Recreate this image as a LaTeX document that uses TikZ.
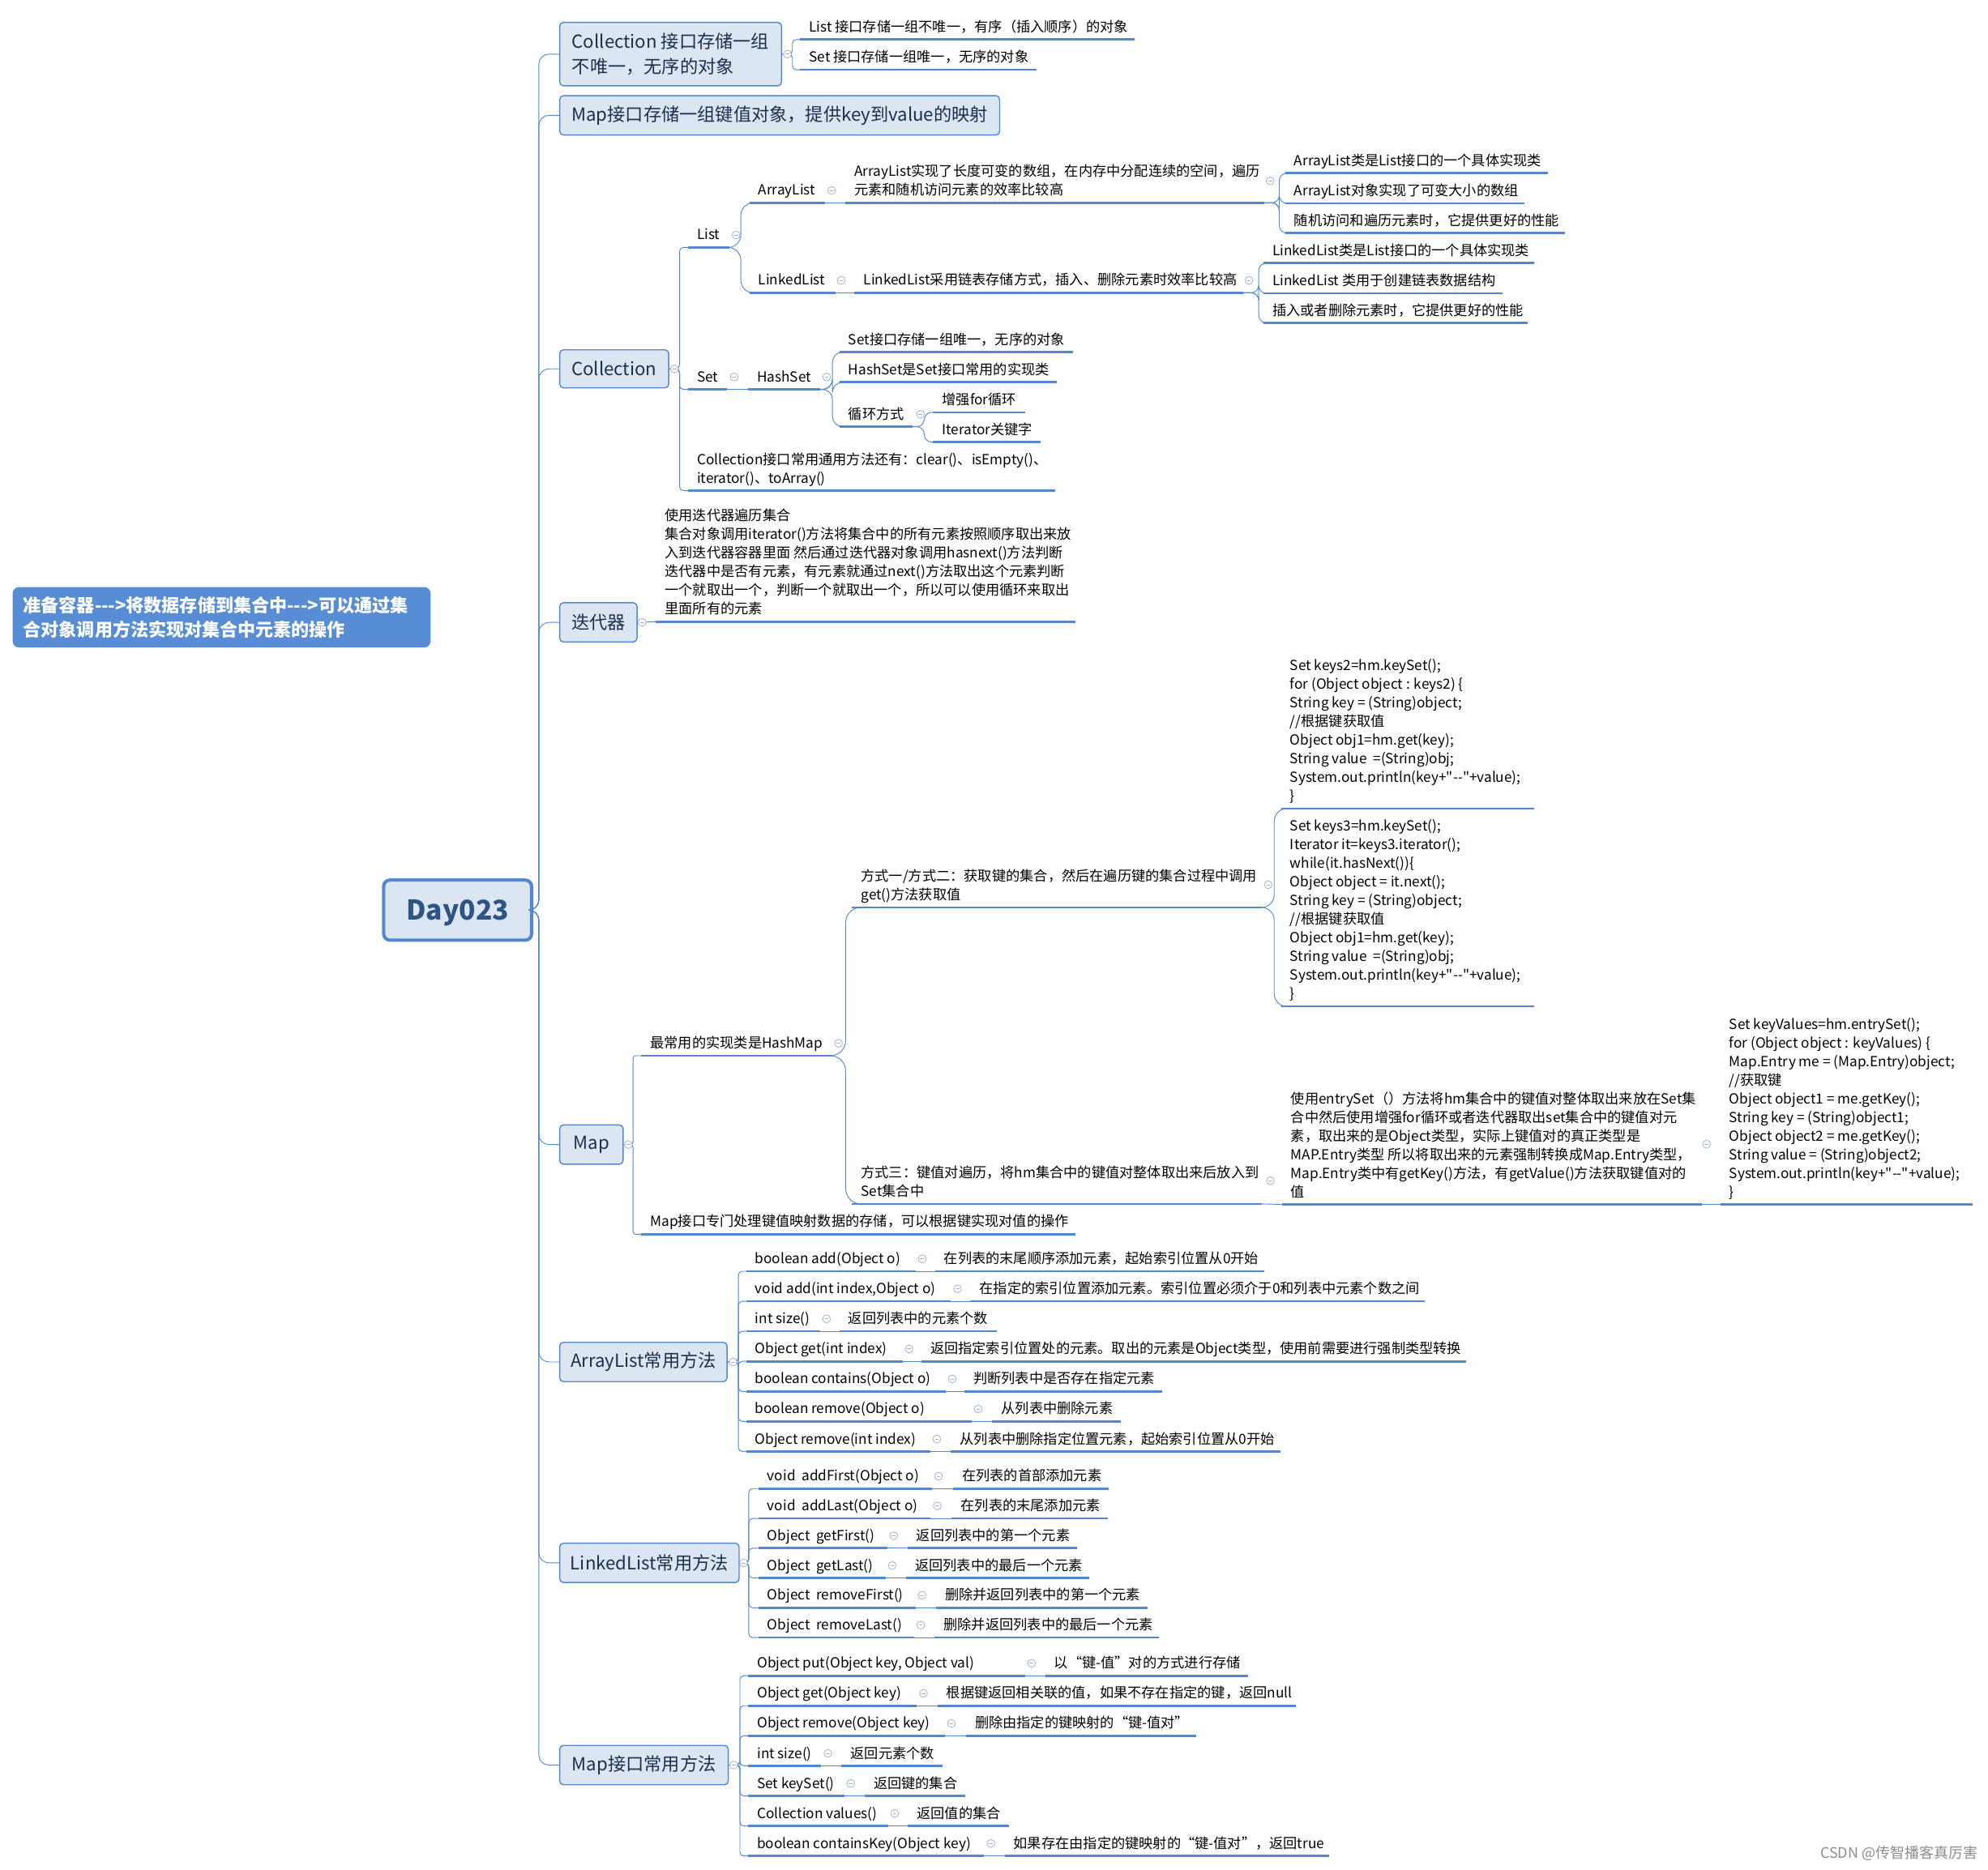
\documentclass[tikz,border=0pt]{standalone}
\usepackage{fontspec}
\setmainfont{Noto Sans CJK SC}
\definecolor{lb}{RGB}{84,135,206}
\definecolor{bfill}{RGB}{220,230,242}
\definecolor{btext}{RGB}{28,48,78}
\definecolor{dtext}{RGB}{46,84,132}
\definecolor{rootc}{RGB}{86,141,212}
\definecolor{mkc}{RGB}{160,178,206}
\newcommand\qd{\textquotedbl}
\newcommand\lf[5]{%
  \coordinate (s#1) at (#2,#3);
  \coordinate (e#1) at (#4,#3);
  \node[leaf] (#1) at (#2+7,#3-5.8) {#5};
  \draw[ul] (s#1) -- (e#1);}
\newcommand\mrow[8]{%
  \lf{#1}{#3}{#2}{#4}{#5}%
  \lf{#1d}{#6}{#2}{#7}{#8}%
  \draw[conn] (e#1) -- (s#1d);
  \pic at (#4+5.2,#2-9.8) {mkr};}
\begin{document}
\begin{tikzpicture}[x=1pt,y=-1pt,
  conn/.style={draw=lb,line width=0.6pt},
  ul/.style={draw=lb,line width=1.7pt},
  leaf/.style={anchor=south west,inner sep=0pt,text depth=0pt,align=left,font=\fontsize{11}{14.7}\selectfont},
  box/.style={draw=lb,line width=0.9pt,fill=bfill,rounded corners=3pt,anchor=west,inner sep=0pt,align=left,text=btext,font=\fontsize{14.2}{20.2}\selectfont},
  mkr/.pic={\draw[line width=0.5pt,draw=mkc,fill=white] (0,0) circle[radius=3.1];
            \draw[line width=0.5pt,draw=mkc] (-1.5,0) -- (1.5,0);}]
\useasboundingbox (0,0) rectangle (1568,1475);
\fill[white] (0,0) rectangle (1568,1475);

% floating root note
\node[fill=rootc,rounded corners=5pt,text width=312.8,minimum height=47.7,anchor=west,inner xsep=8.4,inner ysep=0pt,align=left,text=white,font=\bfseries\fontsize{14.1}{18.8}\selectfont] (root) at (9.8,487) {准备容器-{}-{}->将数据存储到集合中-{}-{}->可以通过集\\合对象调用方法实现对集合中元素的操作};

% central topic
\node[draw=lb,line width=2.6pt,fill=bfill,rounded corners=5pt,minimum width=116.7,minimum height=47.4,anchor=west,inner sep=0pt,text depth=0pt,text=dtext,font=\bfseries\fontsize{21.5}{21.5}\selectfont] (day) at (301.3,718) {Day023};

% main topics
\node[box,minimum width=175,minimum height=50] (b1) at (441,42.7) {Collection 接口存储一组\\不唯一，无序的对象};
\node[box,minimum width=347,minimum height=31] (b2) at (441,91) {Map接口存储一组键值对象，提供key到value的映射};
\node[box,minimum width=86,minimum height=30] (b3) at (441,291) {Collection};
\node[box,minimum width=61,minimum height=31] (b4) at (441,491) {迭代器};
\node[box,minimum width=50,minimum height=31] (b5) at (441,903) {Map};
\node[box,minimum width=132,minimum height=31] (b6) at (441,1074.5) {ArrayList常用方法};
\node[box,minimum width=141.5,minimum height=31] (b7) at (441,1233) {LinkedList常用方法};
\node[box,minimum width=133,minimum height=31] (b8) at (441,1392.5) {Map接口常用方法};

\foreach \b in {b1,b2,b3,b4,b5,b6,b7,b8}
  \draw[conn,rounded corners=8] (day.east) -- (425,718) |- (\b.west);

% Collection interface note
\lf{ca}{631}{31.2}{894.7}{List 接口存储一组不唯一，有序（插入顺序）的对象}
\lf{cb}{631}{55}{817.3}{Set 接口存储一组唯一，无序的对象}
\draw[conn,rounded corners=3] (b1.east) -- (625,42.7) |- (sca);
\draw[conn,rounded corners=3] (b1.east) -- (625,42.7) |- (scb);

% Collection
\lf{lst}{542.6}{195.2}{575}{List}
\lf{al}{591}{160}{651}{ArrayList}
\lf{ald}{666.7}{160}{997.3}{ArrayList实现了长度可变的数组，在内存中分配连续的空间，遍历\\元素和随机访问元素的效率比较高}
\lf{ala}{1013.6}{136.6}{1220.8}{ArrayList类是List接口的一个具体实现类}
\lf{alb}{1013.6}{160.4}{1202.5}{ArrayList对象实现了可变大小的数组}
\lf{alc}{1013.6}{183.9}{1234}{随机访问和遍历元素时，它提供更好的性能}
\lf{ll}{591}{231}{659}{LinkedList}
\lf{lld}{674}{231}{980.6}{LinkedList采用链表存储方式，插入、删除元素时效率比较高}
\lf{lla}{996.5}{207.5}{1210.3}{LinkedList类是List接口的一个具体实现类}
\lf{llb}{996.5}{231.4}{1185.4}{LinkedList 类用于创建链表数据结构}
\lf{llc}{996.5}{254.8}{1205}{插入或者删除元素时，它提供更好的性能}
\lf{st}{542.6}{307.2}{573.6}{Set}
\lf{hs}{590}{307.2}{646.6}{HashSet}
\lf{hsa}{662}{277.8}{846}{Set接口存储一组唯一，无序的对象}
\lf{hsb}{662}{301.5}{833.5}{HashSet是Set接口常用的实现类}
\lf{hsc}{662}{336.6}{720}{循环方式}
\lf{lpa}{736}{325.3}{808.6}{增强for循环}
\lf{lpb}{736}{348.8}{821}{Iterator关键字}
\lf{cm}{542.6}{387.1}{832}{Collection接口常用通用方法还有：clear()、isEmpty()、\\iterator()、toArray()}

\foreach \c in {slst,sst,scm}
  \draw[conn,rounded corners=3] (b3.east) -- (536,291) |- (\c);
\foreach \c in {sal,sll}
  \draw[conn,rounded corners=10] (elst) -- (584.3,195.2) |- (\c);
\draw[conn] (eal) -- (sald);
\foreach \c in {sala,salb,salc}
  \draw[conn,rounded corners=6] (eald) -- (1009,160) |- (\c);
\draw[conn] (ell) -- (slld);
\foreach \c in {slla,sllb,sllc}
  \draw[conn,rounded corners=6] (elld) -- (992.8,231) |- (\c);
\draw[conn] (est) -- (shs);
\foreach \c in {shsa,shsb,shsc}
  \draw[conn,rounded corners=8] (ehs) -- (656.6,307.2) |- (\c);
\foreach \c in {slpa,slpb}
  \draw[conn,rounded corners=6] (ehsc) -- (729,336.6) |- (\c);

% iterator
\lf{it}{517.3}{490.5}{848}{使用迭代器遍历集合\\集合对象调用iterator()方法将集合中的所有元素按照顺序取出来放\\入到迭代器容器里面 然后通过迭代器对象调用hasnext()方法判断\\迭代器中是否有元素，有元素就通过next()方法取出这个元素判断\\一个就取出一个，判断一个就取出一个，所以可以使用循环来取出\\里面所有的元素}
\draw[conn] (b4.east) -- (sit);

% Map
\lf{hm}{505.8}{832.9}{656.3}{最常用的实现类是HashMap}
\lf{mp}{505.8}{973.7}{848.3}{Map接口专门处理键值映射数据的存储，可以根据键实现对值的操作}
\lf{wa}{672}{715.9}{995.5}{方式一/方式二：获取键的集合，然后在遍历键的集合过程中调用\\get()方法获取值}
\lf{wb}{672}{949.8}{995.5}{方式三：键值对遍历，将hm集合中的键值对整体取出来后放入到\\Set集合中}
\lf{cda}{1010.4}{637.9}{1210}{Set keys2=hm.keySet();\\for (Object object : keys2) \{\\String key = (String)object;\\//根据键获取值\\Object obj1=hm.get(key);\\String value\ \ =(String)obj;\\System.out.println(key+\qd-{}-\qd+value);\\\}}
\lf{cdb}{1010.4}{794}{1210}{Set keys3=hm.keySet();\\Iterator it=keys3.iterator();\\while(it.hasNext())\{\\Object object = it.next();\\String key = (String)object;\\//根据键获取值\\Object obj1=hm.get(key);\\String value\ \ =(String)obj;\\System.out.println(key+\qd-{}-\qd+value);\\\}}
\lf{es}{1011}{950.2}{1342.3}{使用entrySet（）方法将hm集合中的键值对整体取出来放在Set集\\合中然后使用增强for循环或者迭代器取出set集合中的键值对元\\素，取出来的是Object类型，实际上键值对的真正类型是\\MAP.Entry类型 所以将取出来的元素强制转换成Map.Entry类型，\\Map.Entry类中有getKey()方法，有getValue()方法获取键值对的\\值}
\lf{cdc}{1356.8}{950.2}{1555.8}{Set keyValues=hm.entrySet();\\for (Object object : keyValues) \{\\Map.Entry me = (Map.Entry)object;\\//获取键\\Object object1 = me.getKey();\\String key = (String)object1;\\Object object2 = me.getKey();\\String value = (String)object2;\\System.out.println(key+\qd-{}-\qd+value);\\\}}

\foreach \c in {shm,smp}
  \draw[conn,rounded corners=2] (b5.east) -- (499.3,903) |- (\c);
\foreach \c in {swa,swb}
  \draw[conn,rounded corners=12] (ehm) -- (667,832.9) |- (\c);
\foreach \c in {scda,scdb}
  \draw[conn,rounded corners=10] (ewa) -- (1005,715.9) |- (\c);
\draw[conn] (ewb) -- (ses);
\draw[conn] (ees) -- (scdc);

% ArrayList methods
\mrow{a1}{1002.9}{588.4}{722.1}{boolean add(Object o)}{737.4}{997.2}{在列表的末尾顺序添加元素，起始索引位置从0开始}
\mrow{a2}{1026.6}{588.4}{750}{void add(int index,Object o)}{765.4}{1123.8}{在指定的索引位置添加元素。索引位置必须介于0和列表中元素个数之间}
\mrow{a3}{1050.3}{588.4}{646.7}{int size()}{662}{786.3}{返回列表中的元素个数}
\mrow{a4}{1074}{588.4}{711.8}{Object get(int index)}{726.7}{1156.3}{返回指定索引位置处的元素。取出的元素是Object类型，使用前需要进行强制类型转换}
\mrow{a5}{1097.7}{588.4}{745.8}{boolean contains(Object o)}{760.7}{916.7}{判断列表中是否存在指定元素}
\mrow{a6}{1121.4}{588.4}{766.3}{boolean remove(Object o)}{782.6}{884}{从列表中删除元素}
\mrow{a7}{1145.1}{588.4}{733.7}{Object remove(int index)}{750}{1009.8}{从列表中删除指定位置元素，起始索引位置从0开始}
\foreach \i in {1,...,7}
  \draw[conn,rounded corners=3] (b6.east) -- (582.4,1074.5) |- (sa\i);

% LinkedList methods
\mrow{l1}{1174.4}{598.1}{735.1}{void\ \ addFirst(Object o)}{751.7}{874.2}{在列表的首部添加元素}
\mrow{l2}{1197.9}{598.1}{734.1}{void\ \ addLast(Object o)}{750.7}{873.6}{在列表的末尾添加元素}
\mrow{l3}{1221.4}{598.1}{699.7}{Object\ \ getFirst()}{715.7}{849.2}{返回列表中的第一个元素}
\mrow{l4}{1244.9}{598.1}{698.5}{Object\ \ getLast()}{714.7}{859.2}{返回列表中的最后一个元素}
\mrow{l5}{1268.4}{598.1}{722}{Object\ \ removeFirst()}{738.2}{904.9}{删除并返回列表中的第一个元素}
\mrow{l6}{1291.9}{598.1}{721}{Object\ \ removeLast()}{737.2}{914.2}{删除并返回列表中的最后一个元素}
\foreach \i in {1,...,6}
  \draw[conn,rounded corners=3] (b7.east) -- (590.6,1233) |- (sl\i);

% Map methods
\mrow{m1}{1322}{590}{808.4}{Object put(Object key, Object val)}{824.4}{984.2}{以“键-值”对的方式进行存储}
\mrow{m2}{1345.7}{590}{723.2}{Object get(Object key)}{739.3}{1022.4}{根据键返回相关联的值，如果不存在指定的键，返回null}
\mrow{m3}{1369.4}{590}{745.3}{Object remove(Object key)}{761.8}{943.3}{删除由指定的键映射的“键-值对”}
\mrow{m4}{1393.1}{590}{647.8}{int size()}{663.8}{743.4}{返回元素个数}
\mrow{m5}{1416.8}{590}{665.8}{Set keySet()}{681.9}{761.4}{返回键的集合}
\mrow{m6}{1440.5}{590}{700.4}{Collection values()}{716}{795.5}{返回值的集合}
\mrow{m7}{1464.2}{590}{776.3}{boolean containsKey(Object key)}{792.3}{1048.4}{如果存在由指定的键映射的“键-值对”，返回true}
\foreach \i in {1,...,7}
  \draw[conn,rounded corners=3] (b8.east) -- (583.6,1392.5) |- (sm\i);

% collapse markers
\foreach \x/\y in {621/42.7,532/291,506.5/491,495.6/903,578.2/1074.5,586.5/1233,578.7/1392.5,580.5/185.4,656/150.2,1001.8/142.7,663.5/221.2,985/221.2,579/297.4,652/297.4,726/326.8,661.4/823.1,1000.3/698,1002/931.5,1346/902.7}
  \pic at (\x,\y) {mkr};

% watermark
\node[anchor=east,inner sep=0pt,text=black!45,font=\fontsize{11.5}{13}\selectfont] (wm) at (1560,1462) {CSDN @传智播客真厉害};
\end{tikzpicture}
\end{document}
